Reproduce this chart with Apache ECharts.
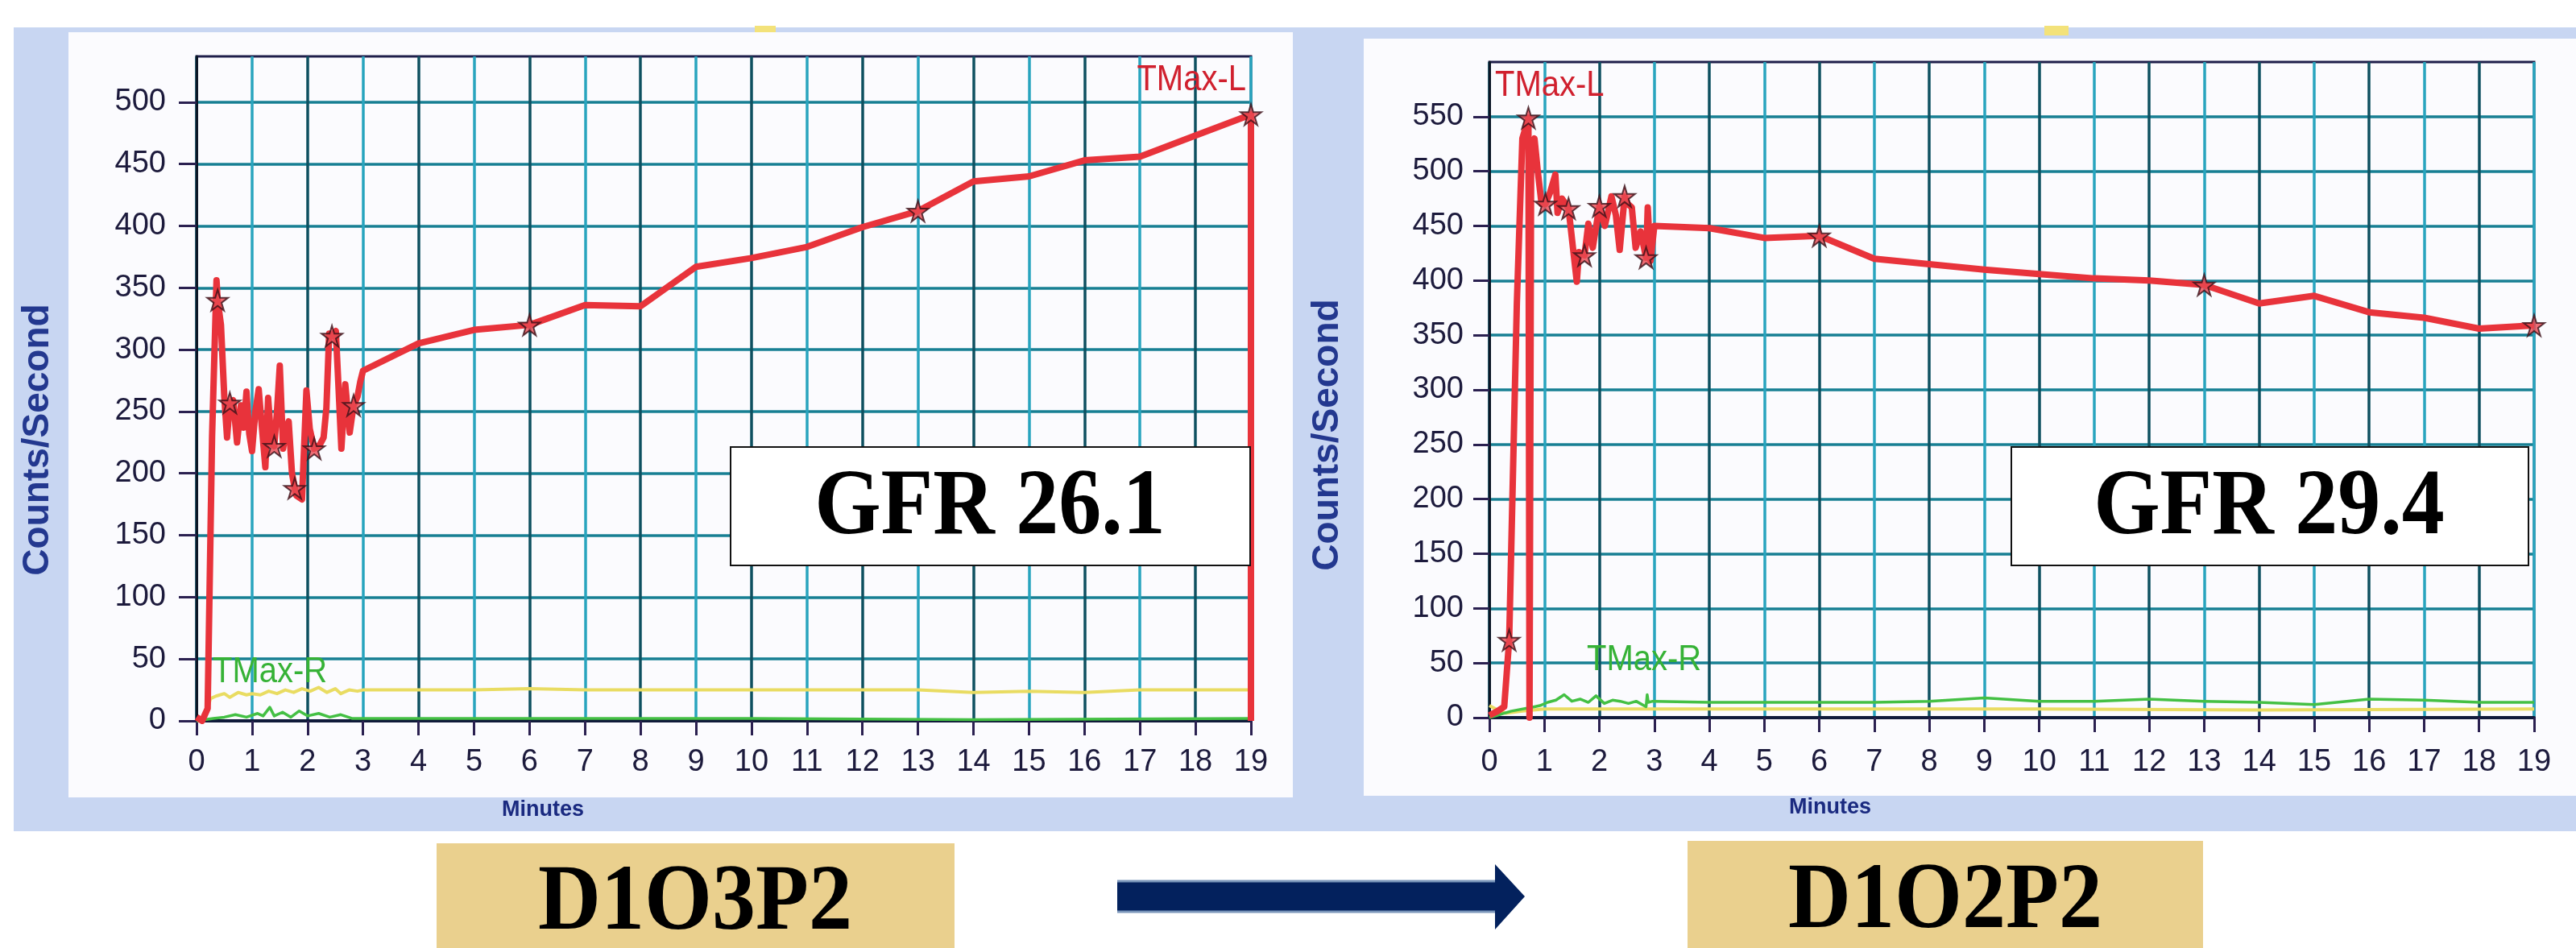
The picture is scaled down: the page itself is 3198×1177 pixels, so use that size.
<!DOCTYPE html>
<html><head><meta charset="utf-8">
<script src="https://cdn.jsdelivr.net/npm/echarts@6/dist/echarts.min.js"></script>
<style>html,body{margin:0;padding:0;background:#fff;overflow:hidden;} #c{width:3198px;height:1177px;}</style>
</head><body><div id="c"></div>
<script>
// ---------- data ----------
const yTicksLeft = [0,50,100,150,200,250,300,350,400,450,500];
const yTicksRight = [0,50,100,150,200,250,300,350,400,450,500,550];

const leftTime = [0,0.10,0.20,0.28,0.36,0.38,0.44,0.50,0.55,0.60,0.66,0.73,0.80,0.85,0.90,0.95,1.00,1.06,1.12,1.18,1.24,1.29,1.35,1.40,1.45,1.50,1.56,1.61,1.66,1.72,1.77,1.80,1.90,1.98,2.04,2.12,2.22,2.29,2.34,2.39,2.44,2.51,2.56,2.61,2.68,2.76,2.83,2.90,2.95,3.00,4,5,6,7,8,9,10,11,12,13,14,15,16,17,18,19,19];
const leftTMaxL = [3,0,10,230,356,340,320,262,229,257,259,225,255,237,266,232,218,250,268,236,205,261,224,222,250,287,220,235,242,200,188,182,179,267,236,220,223,229,253,313,311,315,268,220,272,233,255,262,274,283,305,316,320,336,335,367,374,383,399,412,436,440,453,456,473,490,0];
const leftStarTime = [0.38,0.60,1.40,1.77,2.12,2.44,2.83,6,13,19];
const leftStarVal = [340,257,222,188,220,311,255,320,412,490];
const leftYellowTime = [0,0.15,0.25,0.35,0.5,0.6,0.75,0.9,1.0,1.15,1.3,1.45,1.6,1.75,1.9,2.05,2.2,2.35,2.5,2.6,2.75,2.9,3,4,5,6,7,8,9,10,11,12,13,14,15,16,17,18,19];
const leftYellow = [0,2,18,20,22,19,23,21,22,21,24,22,25,23,26,24,27,23,26,22,25,24,25,25,25,26,25,25,25,25,25,25,25,23,24,23,25,25,25];
const leftGreenTime = [0,0.3,0.5,0.7,0.9,1.1,1.2,1.32,1.4,1.55,1.7,1.85,2.0,2.2,2.4,2.6,2.8,3,6,10,14,19];
const leftGreen = [0,2,3,5,3,6,4,11,4,7,3,8,4,6,3,5,2,2,2,2,1,2];

const rightTime = [0,0.15,0.27,0.36,0.50,0.60,0.66,0.71,0.73,0.76,0.82,0.88,0.95,1.02,1.10,1.20,1.24,1.32,1.44,1.52,1.59,1.63,1.73,1.80,1.88,2.00,2.10,2.22,2.30,2.37,2.46,2.52,2.59,2.66,2.75,2.85,2.88,2.93,3.00,4,5,6,7,8,9,10,11,12,13,14,15,16,17,18,19];
const rightTMaxL = [2,6,10,71,380,530,540,549,0,520,530,500,470,470,480,497,462,475,466,430,399,426,423,452,430,468,450,477,460,428,477,470,467,430,445,421,467,418,450,448,439,441,420,415,410,406,402,400,396,379,386,371,366,356,359];
const rightStarTime = [0.36,0.71,1.02,1.44,1.73,2.00,2.46,2.85,6,13,19];
const rightStarVal = [71,549,470,466,423,468,477,421,441,396,359];
const rightYellowTime = [0,0.15,0.3,0.6,1.0,3,6,10,14,19];
const rightYellow = [11,7,4,6,8,8,8,8,7,8];
const rightGreenTime = [0,0.4,0.82,0.92,1.06,1.21,1.36,1.5,1.65,1.8,1.94,2.09,2.24,2.38,2.53,2.67,2.85,2.87,2.89,2.97,3,4,5,6,7,8,9,10,11,12,13,14,15,16,17,18,19];
const rightGreen = [0,6,10,11,14,16,21,15,17,14,20,13,16,15,13,15,10,21,14,15,15,14,14,14,14,15,18,15,15,17,15,14,12,17,16,14,14];

const gfrLeft = 'GFR 26.1', gfrRight = 'GFR 29.4';
const codeLeft = 'D1O3P2', codeRight = 'D1O2P2';

// ---------- helpers ----------
const zip = (xs, ys) => xs.map((x, i) => [x, ys[i]]);
const STAR = 'path://M50,0 L61,35 L98,35 L68,57 L79,91 L50,70 L21,91 L32,57 L2,35 L39,35 Z';
const SANS = '"Liberation Sans", Arial, sans-serif';
const SERIF = '"Liberation Serif", "Times New Roman", serif';

function xAxisCfg(gridIndex, margin) {
  return {
    type: 'value', gridIndex, min: 0, max: 19, interval: 1,
    axisLine: { show: true, lineStyle: { color: '#101a3a', width: 4 } },
    axisTick: { show: true, length: 18, lineStyle: { color: '#2a2050', width: 3 } },
    axisLabel: { margin, fontSize: 38, color: '#1c1a3c', fontFamily: SANS },
    splitLine: { show: true, lineStyle: { color: ['#0e5060', '#28a4be'], width: 3.5 } }
  };
}
function yAxisCfg(gridIndex, max, ticks, margin, tickLen) {
  return {
    type: 'value', gridIndex, min: 0, max, interval: 50,
    axisLine: { show: true, lineStyle: { color: '#0b1626', width: 3 } },
    axisTick: { show: true, length: tickLen, customValues: ticks, lineStyle: { color: '#2a2050', width: 3 } },
    axisLabel: { margin, fontSize: 38, color: '#1c1a3c', fontFamily: SANS, customValues: ticks },
    splitLine: { show: true, lineStyle: { color: '#177f93', width: 3.5 } }
  };
}
function lineSeries(idx, data, color, width, z) {
  return { type: 'line', xAxisIndex: idx, yAxisIndex: idx, data, showSymbol: false, symbol: 'none',
    lineStyle: { color, width, join: 'round' }, z, animation: false };
}
function starSeries(idx, data) {
  return { type: 'scatter', xAxisIndex: idx, yAxisIndex: idx, data, symbol: STAR, symbolSize: 26,
    itemStyle: { color: '#e84a52', borderColor: '#3a1018', borderWidth: 2 }, z: 6, clip: false };
}
function txt(x, y, text, font, fill, align, extra) {
  return Object.assign({ type: 'text', x, y, z: 20,
    style: { text, font, fill, align: align || 'center', verticalAlign: 'middle' } }, extra || {});
}

const chart = echarts.init(document.getElementById('c'), null, { renderer: 'canvas' });
chart.setOption({
  animation: false,
  backgroundColor: '#ffffff',
  grid: [
    { left: 244, top: 70, width: 1309, height: 825, show: true, borderColor: '#1e1e4a', borderWidth: 3, backgroundColor: 'transparent' },
    { left: 1849, top: 77, width: 1297, height: 814, show: true, borderColor: '#1e1e4a', borderWidth: 3, backgroundColor: 'transparent' }
  ],
  xAxis: [xAxisCfg(0, 33), xAxisCfg(1, 37)],
  yAxis: [yAxisCfg(0, 537, yTicksLeft, 38, 22), yAxisCfg(1, 600, yTicksRight, 32, 20)],
  series: [
    lineSeries(0, zip(leftYellowTime, leftYellow), '#e9dc62', 4, 3),
    lineSeries(0, zip(leftGreenTime, leftGreen), '#44c044', 3.5, 3),
    lineSeries(0, zip(leftTime, leftTMaxL), '#e8333b', 8, 5),
    starSeries(0, zip(leftStarTime, leftStarVal)),
    lineSeries(1, zip(rightYellowTime, rightYellow), '#e9dc62', 4, 3),
    lineSeries(1, zip(rightGreenTime, rightGreen), '#44c044', 3.5, 3),
    lineSeries(1, zip(rightTime, rightTMaxL), '#e8333b', 8, 5),
    starSeries(1, zip(rightStarTime, rightStarVal))
  ],
  graphic: { elements: [
    // scanned background frames
    { type: 'rect', z: -10, shape: { x: 17, y: 34, width: 3181, height: 998 }, style: { fill: '#c8d6f2' } },
    { type: 'rect', z: -9, shape: { x: 85, y: 40, width: 1520, height: 950 }, style: { fill: '#fbfbfe' } },
    { type: 'rect', z: -9, shape: { x: 1693, y: 48, width: 1505, height: 940 }, style: { fill: '#fbfbfe' } },
    { type: 'rect', z: -8, shape: { x: 937, y: 32, width: 26, height: 8 }, style: { fill: '#f3e27a' } },
    { type: 'rect', z: -8, shape: { x: 2538, y: 32, width: 30, height: 12 }, style: { fill: '#f3e27a' } },
    // axis titles
    txt(47, 546, 'Counts/Second', 'bold 46px ' + SANS, '#23388f', 'center', { rotation: Math.PI / 2 }),
    txt(1648, 540, 'Counts/Second', 'bold 46px ' + SANS, '#23388f', 'center', { rotation: Math.PI / 2 }),
    txt(674, 1006, 'Minutes', 'bold 27px ' + SANS, '#1a2a80'),
    txt(2272, 1003, 'Minutes', 'bold 27px ' + SANS, '#1a2a80'),
    // series labels
    txt(1547, 100, 'TMax-L', '40px ' + SANS, '#d0202e', 'right', { scaleY: 1.1 }),
    txt(1856, 107, 'TMax-L', '40px ' + SANS, '#d0202e', 'left', { scaleY: 1.1 }),
    txt(264, 835, 'TMax-R', '40px ' + SANS, '#36b236', 'left', { scaleY: 1.1 }),
    txt(1970, 820, 'TMax-R', '40px ' + SANS, '#36b236', 'left', { scaleY: 1.1 }),
    // GFR boxes
    { type: 'rect', z: 15, shape: { x: 907, y: 555, width: 645, height: 147 }, style: { fill: '#ffffff', stroke: '#111', lineWidth: 2 } },
    txt(1229, 632, gfrLeft, 'bold 106px ' + SERIF, '#000', 'center', { scaleY: 1.1 }),
    { type: 'rect', z: 15, shape: { x: 2497, y: 555, width: 642, height: 147 }, style: { fill: '#ffffff', stroke: '#111', lineWidth: 2 } },
    txt(2817, 632, gfrRight, 'bold 106px ' + SERIF, '#000', 'center', { scaleY: 1.1 }),
    // bottom labels
    { type: 'rect', z: 1, shape: { x: 542, y: 1047, width: 643, height: 130 }, style: { fill: '#ead08e' } },
    txt(863, 1123, codeLeft, 'bold 108px ' + SERIF, '#000', 'center', { scaleY: 1.08 }),
    { type: 'rect', z: 1, shape: { x: 2095, y: 1044, width: 640, height: 133 }, style: { fill: '#ead08e' } },
    txt(2415, 1121, codeRight, 'bold 108px ' + SERIF, '#000', 'center', { scaleY: 1.08 }),
    // arrow
    { type: 'polygon', z: 1, shape: { points: [[1387,1093],[1856,1093],[1856,1073],[1893,1113],[1856,1154],[1856,1133],[1387,1133]] }, style: { fill: '#03215d' } },
    { type: 'line', z: 2, shape: { x1: 1387, y1: 1094, x2: 1856, y2: 1094 }, style: { stroke: '#7c97bb', lineWidth: 3 } },
    { type: 'line', z: 2, shape: { x1: 1387, y1: 1132, x2: 1856, y2: 1132 }, style: { stroke: '#7c97bb', lineWidth: 3 } }
  ] }
});
</script></body></html>
